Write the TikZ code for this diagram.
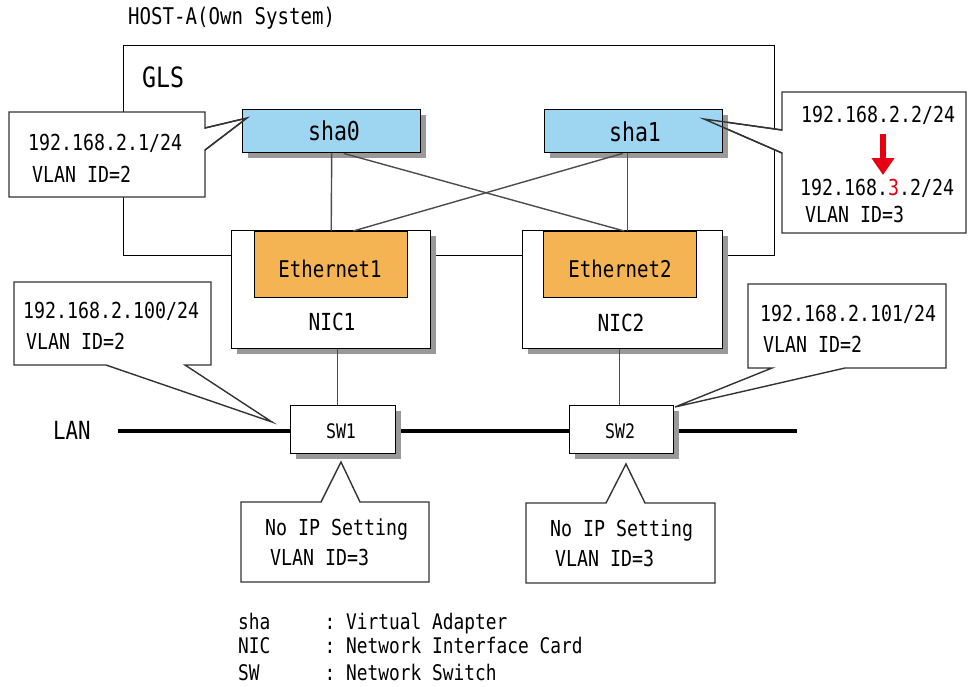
\documentclass[tikz,border=0pt]{standalone}
\usepackage{fontspec}
\newfontfamily\gfont[FakeStretch=0.83]{DejaVu Sans Mono}
\usetikzlibrary{arrows.meta,shadows}
\definecolor{shablue}{RGB}{158,214,242}
\definecolor{ethorange}{RGB}{245,180,84}
\definecolor{redmark}{RGB}{230,0,18}
\newcommand{\fsz}[1]{\fontsize{#1}{#1}\selectfont}
\begin{document}
\begin{tikzpicture}[x=1pt,y=-1pt,
  every node/.style={inner sep=0pt},
  txt/.style={anchor=base west, font=\gfont\fsz{22}},
  lgd/.style={anchor=base west, font=\gfont\fsz{21.5}},
  lbl/.style={anchor=center},
  box/.style={draw=black, line width=1.4pt, anchor=north west, inner sep=0pt},
  shad/.style={drop shadow={shadow xshift=5pt,shadow yshift=-5pt,fill=black!40,opacity=1}},
  conn/.style={draw=black!70, line width=1.4pt},
  callout/.style={draw=black!80, line width=1.4pt, fill=white, line join=miter},
  lanline/.style={line width=4pt}]

\useasboundingbox (0,0) rectangle (972,686);
\fill[white] (0,0) rectangle (972,686);

% title and GLS frame
\node[txt, font=\gfont\fsz{23}] (host) at (128,24) {HOST-A(Own System)};
\node[box, minimum width=651pt, minimum height=210pt] (gls) at (123,45) {};
\node[txt, font=\gfont\fsz{28}] (glslbl) at (142,87) {GLS};

% callouts of the adapters (filled)
\coordinate (tipA) at (247,118);
\coordinate (tipB) at (704,119);
\draw[callout] (9,112) -- (205,112) -- (205,128) -- (tipA) -- (205,150) -- (205,197) -- (9,197) -- cycle;
\draw[callout] (782,92) -- (966,92) -- (966,233) -- (782,233) -- (782,153) -- (tipB) -- (782,130) -- cycle;

% boxes
\node[box, shad, fill=white, minimum width=199pt, minimum height=118pt] (nic1) at (231,230) {};
\node[box, shad, fill=white, minimum width=200pt, minimum height=118pt] (nic2) at (522,230) {};
\node[box, fill=ethorange, minimum width=153pt, minimum height=66pt] (eth1) at (254,231) {};
\node[box, fill=ethorange, minimum width=153pt, minimum height=66pt] (eth2) at (543,231) {};
\node[box, shad, fill=shablue, minimum width=178pt, minimum height=43pt] (sha0) at (242,109) {};
\node[box, shad, fill=shablue, minimum width=178pt, minimum height=43pt] (sha1) at (544,109) {};

% sha - ethernet connectors
\draw[conn] (sha0.south) -- (eth1.north);
\draw[conn] ([xshift=-6pt]sha1.south) -- ([xshift=7.5pt]eth2.north);
\draw[conn] ([xshift=12pt]sha0.south) -- ([xshift=4pt]eth2.north);
\draw[conn] ([xshift=-11pt]sha1.south) -- ([xshift=22pt]eth1.north);

% pointer outlines over the adapters
\draw[callout, fill=none] (205,128) -- (tipA) -- (205,150);
\draw[callout, fill=none] (782,153) -- (tipB) -- (782,130);

% LAN
\coordinate (lanL) at (118,431);
\coordinate (lanR) at (797,431);
\draw[lanline] (lanL) -- (lanR);
\node[txt, font=\gfont\fsz{25}] (lanlbl) at (53,439) {LAN};

% switches
\node[box, shad, fill=white, minimum width=105pt, minimum height=48pt] (sw1) at (290,405) {};
\node[box, shad, fill=white, minimum width=104pt, minimum height=48pt] (sw2) at (569,405) {};
\draw[conn] ([xshift=6.5pt]nic1.south) coordinate (n1b) -- (n1b |- sw1.north);
\draw[conn] ([xshift=-3pt]nic2.south) coordinate (n2b) -- (n2b |- sw2.north);

% switch callouts
\coordinate (tipC) at (272,422);
\coordinate (tipD) at (675,407);
\coordinate (tipE) at (341,462);
\coordinate (tipF) at (626,464);
\draw[callout] (14,282) -- (211,282) -- (211,365) -- (185,365) -- (tipC) -- (106,365) -- (14,365) -- cycle;
\draw[callout] (748,284) -- (946,284) -- (946,368) -- (845,368) -- (tipD) -- (772,368) -- (748,368) -- cycle;
\draw[callout] (241,502) -- (321,502) -- (tipE) -- (360,502) -- (429,502) -- (429,582) -- (241,582) -- cycle;
\draw[callout] (526,503) -- (606,503) -- (tipF) -- (645,503) -- (715,503) -- (715,583) -- (526,583) -- cycle;

% box labels
\node[lbl, font=\gfont\fsz{26}] (sha0t) at (334,131) {sha0};
\node[lbl, font=\gfont\fsz{26}] (sha1t) at (635,132) {sha1};
\node[lbl, font=\gfont\fsz{23}] (eth1t) at (330,269) {Ethernet1};
\node[lbl, font=\gfont\fsz{23}] (eth2t) at (620,269) {Ethernet2};
\node[lbl, font=\gfont\fsz{23.5}] (nic1t) at (332,322) {NIC1};
\node[lbl, font=\gfont\fsz{23.5}] (nic2t) at (621,323) {NIC2};
\node[lbl, font=\gfont\fsz{20}] (sw1t) at (341,431) {SW1};
\node[lbl, font=\gfont\fsz{20}] (sw2t) at (620,431) {SW2};

% callout texts
\node[txt] (ipA) at (28,150) {192.168.2.1/24};
\node[txt] (vlA) at (32,182) {VLAN ID=2};
\node[txt] (ipB1) at (801,122) {192.168.2.2/24};
\node[txt] (ipB2) at (800,195) {192.168.{\color{redmark}3}.2/24};
\node[txt] (vlB) at (805,222) {VLAN ID=3};
\coordinate (arrS) at (883,134);
\coordinate (arrE) at (883,175);
\draw[redmark, line width=6pt, -{Triangle[width=22pt,length=17pt]}] (arrS) -- (arrE);
\node[txt] (ipC) at (23,318) {192.168.2.100/24};
\node[txt] (vlC) at (26,349) {VLAN ID=2};
\node[txt] (ipD) at (760,321) {192.168.2.101/24};
\node[txt] (vlD) at (763,352) {VLAN ID=2};
\node[txt] (noE) at (265,535) {No IP Setting};
\node[txt] (vlE) at (270,565) {VLAN ID=3};
\node[txt] (noF) at (550,536) {No IP Setting};
\node[txt] (vlF) at (555,566) {VLAN ID=3};

% legend
\node[lgd] (lg1a) at (238,629) {sha};
\node[lgd, anchor=base] (lg1c) at (330,629) {:};
\node[lgd] (lg1b) at (346,629) {Virtual Adapter};
\node[lgd] (lg2a) at (238,653) {NIC};
\node[lgd, anchor=base] (lg2c) at (330,653) {:};
\node[lgd] (lg2b) at (346,653) {Network Interface Card};
\node[lgd] (lg3a) at (238,680) {SW};
\node[lgd, anchor=base] (lg3c) at (330,680) {:};
\node[lgd] (lg3b) at (346,680) {Network Switch};
\end{tikzpicture}
\end{document}
